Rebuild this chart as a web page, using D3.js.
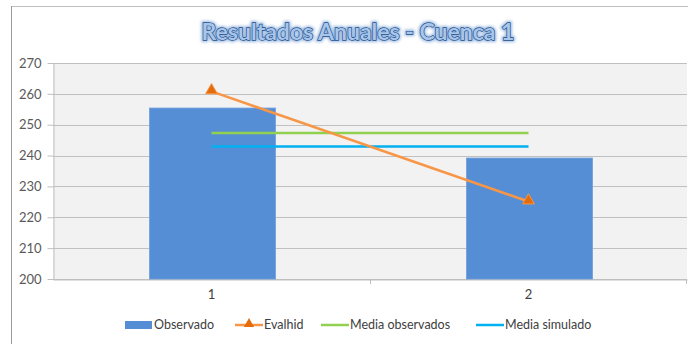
<!DOCTYPE html>
<html>
<head>
<meta charset="utf-8">
<script src="https://cdn.jsdelivr.net/npm/d3@7"></script>
<style>
  html, body { margin: 0; padding: 0; background: #fff; }
  svg { display: block; }
</style>
</head>
<body>
<div id="chart"></div>
<script>
// Annual results for basin 1
const categories = ["1", "2"];
const observado = [255.4, 239.2];
const evalhid = [260.8, 225.1];
const mediaObservados = [247.3, 247.3];
const mediaSimulado = [242.95, 242.95];
const yTicks = [200, 210, 220, 230, 240, 250, 260, 270];
const legendLabels = ["Observado", "Evalhid", "Media observados", "Media simulado"];
const titleText = "Resultados Anuales - Cuenca 1";

const W = 688, H = 344;
const plot = { left: 53, right: 687, top: 63, bottom: 279 };
const font = "Lato, 'Liberation Sans', Arial, sans-serif";

const svg = d3.select("#chart").append("svg")
  .attr("width", W).attr("height", H);

// chart frame
svg.append("path")
  .attr("d", `M11.5,${H} V6.5 H${W}`)
  .attr("fill", "none").attr("stroke", "#bfbfbf").attr("stroke-width", 1);
svg.append("line")
  .attr("x1", 11.5).attr("x2", 11.5).attr("y1", 6).attr("y2", H)
  .attr("stroke", "#9a9a9a");

const x = d3.scaleBand().domain(categories).range([plot.left, plot.right]).paddingInner(0).paddingOuter(0);
const y = d3.scaleLinear().domain([200, 270]).range([plot.bottom, plot.top]);
const cx = d => x(d) + x.bandwidth() / 2;

// plot background
svg.append("rect")
  .attr("x", plot.left).attr("y", plot.top)
  .attr("width", plot.right - plot.left).attr("height", plot.bottom - plot.top)
  .attr("fill", "#f2f2f2");

// gridlines
svg.append("g").selectAll("line").data(yTicks).join("line")
  .attr("x1", plot.left).attr("x2", plot.right)
  .attr("y1", d => Math.round(y(d)) + 0.5).attr("y2", d => Math.round(y(d)) + 0.5)
  .attr("stroke", "#c0c0c0").attr("stroke-width", 1.2);

// y axis
const yAxis = svg.append("g")
  .attr("transform", `translate(${plot.left + 0.5},0)`)
  .call(d3.axisLeft(y).tickValues(yTicks).tickSize(6).tickSizeOuter(0).tickFormat(d3.format("d")));
yAxis.select(".domain").attr("stroke", "#bfbfbf");
yAxis.selectAll(".tick line").attr("stroke", "#bfbfbf");
yAxis.selectAll(".tick text")
  .attr("x", -12)
  .attr("fill", "#595959").attr("font-size", 13).attr("font-family", font);

// x axis
const xAxis = svg.append("g")
  .attr("transform", `translate(0,${plot.bottom + 0.5})`)
  .call(d3.axisBottom(x).tickSize(0).tickSizeOuter(0));
xAxis.select(".domain").attr("stroke", "#bfbfbf");
xAxis.selectAll(".tick text")
  .attr("dy", "1.3em")
  .attr("fill", "#404040").attr("font-size", 13).attr("font-family", font);
// category boundary ticks
svg.append("g").selectAll("line").data(categories.slice(1).concat(["__end"])).join("line")
  .attr("x1", d => d === "__end" ? plot.right - 0.5 : x(d) + 0.5)
  .attr("x2", d => d === "__end" ? plot.right - 0.5 : x(d) + 0.5)
  .attr("y1", plot.bottom).attr("y2", plot.bottom + 5)
  .attr("stroke", "#bfbfbf");

// bars
const barW = 126;
svg.append("g").selectAll("rect").data(observado).join("rect")
  .attr("x", (d, i) => cx(categories[i]) - barW / 2 + 1)
  .attr("y", d => y(d))
  .attr("width", barW)
  .attr("height", d => y(200) - y(d))
  .attr("fill", "#558ed5").attr("stroke", "#6f9fdc").attr("stroke-width", 0.8);

// mean lines
const meanLine = d3.line().x((d, i) => cx(categories[i])).y(d => y(d));
svg.append("path").datum(mediaObservados)
  .attr("d", meanLine).attr("fill", "none")
  .attr("stroke", "#92d050").attr("stroke-width", 2.5);
svg.append("path").datum(mediaSimulado)
  .attr("d", meanLine).attr("fill", "none")
  .attr("stroke", "#00b0f0").attr("stroke-width", 2.5);

// Evalhid line with triangle markers
svg.append("path").datum(evalhid)
  .attr("d", meanLine).attr("fill", "none")
  .attr("stroke", "#f79646").attr("stroke-width", 2.5);
const tri = d3.symbol().type(d3.symbolTriangle).size(60);
svg.append("g").selectAll("path").data(evalhid).join("path")
  .attr("transform", (d, i) => `translate(${cx(categories[i])},${y(d) - 1})`)
  .attr("d", tri)
  .attr("fill", "#e46c0a").attr("stroke", "#f79646").attr("stroke-width", 1);

// title
svg.append("defs").append("filter").attr("id", "glow")
  .attr("x", "-10%").attr("y", "-30%").attr("width", "120%").attr("height", "160%")
  .append("feGaussianBlur").attr("stdDeviation", 1.5);
svg.append("text")
  .attr("x", 358).attr("y", 40)
  .attr("text-anchor", "middle")
  .attr("font-family", font).attr("font-weight", "bold").attr("font-size", 23)
  .attr("fill", "none").attr("stroke", "#9dbbe0").attr("stroke-width", 4)
  .attr("filter", "url(#glow)")
  .text(titleText);
svg.append("text")
  .attr("x", 358).attr("y", 40)
  .attr("text-anchor", "middle")
  .attr("font-family", font).attr("font-weight", "bold").attr("font-size", 23)
  .attr("fill", "#a9c6ea").attr("stroke", "#1f4e8c").attr("stroke-width", 1.3)
  .attr("paint-order", "stroke")
  .text(titleText);

// legend
const legY = 325;
const leg = svg.append("g").attr("font-family", font).attr("font-size", 12.5).attr("fill", "#404040");
const legItems = [
  { x: 125, label: legendLabels[0], kind: "bar", color: "#558ed5" },
  { x: 235, label: legendLabels[1], kind: "tri", color: "#f79646" },
  { x: 321, label: legendLabels[2], kind: "line", color: "#92d050" },
  { x: 476, label: legendLabels[3], kind: "line", color: "#00b0f0" }
];
legItems.forEach(it => {
  const g = leg.append("g");
  if (it.kind === "bar") {
    g.append("rect").attr("x", it.x).attr("y", legY - 4).attr("width", 27).attr("height", 8).attr("fill", it.color);
  } else {
    g.append("line").attr("x1", it.x).attr("x2", it.x + 28).attr("y1", legY).attr("y2", legY)
      .attr("stroke", it.color).attr("stroke-width", 2.5);
    if (it.kind === "tri") {
      g.append("path").attr("transform", `translate(${it.x + 14},${legY - 1})`)
        .attr("d", d3.symbol().type(d3.symbolTriangle).size(45))
        .attr("fill", "#e46c0a");
    }
  }
  g.append("text").attr("x", it.x + 29).attr("y", legY).attr("dy", "0.35em")
    .attr("fill", "#404040").text(it.label);
});
</script>
</body>
</html>
